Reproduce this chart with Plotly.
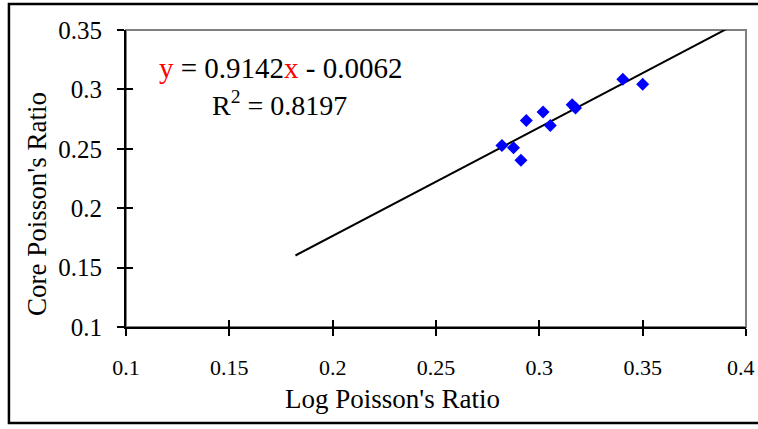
import plotly.graph_objects as go

# Data
log_pr = [0.2819, 0.2875, 0.2911, 0.2937, 0.3018, 0.3053, 0.3159, 0.3175, 0.3404, 0.3500]
core_pr = [0.2527, 0.2508, 0.2404, 0.2739, 0.2810, 0.2697, 0.2871, 0.2843, 0.3086, 0.3044]
slope = 0.9142
intercept = -0.0062
trend_x = [0.182, 0.391]
trend_y = [slope * v + intercept for v in trend_x]
x_ticks = [0.1, 0.15, 0.2, 0.25, 0.3, 0.35, 0.4]
y_ticks = [0.1, 0.15, 0.2, 0.25, 0.3, 0.35]

FONT = "Liberation Serif, Times New Roman, serif"

# last x tick label is drawn as an annotation nudged inward so it is not clipped at the page edge
x_ticktext = [f"{v:g}" for v in x_ticks[:-1]] + [""]
last_x_label = f"{x_ticks[-1]:g}"

fig = go.Figure()
fig.add_trace(go.Scatter(x=trend_x, y=trend_y, mode="lines",
                         line=dict(color="black", width=2), showlegend=False, hoverinfo="skip"))
fig.add_trace(go.Scatter(x=log_pr, y=core_pr, mode="markers",
                         marker=dict(symbol="diamond", color="#0000FF", size=10, line=dict(width=0)),
                         showlegend=False))

fig.update_layout(
    width=758, height=429,
    margin=dict(l=126, r=12, t=30, b=102, autoexpand=False),
    paper_bgcolor="white", plot_bgcolor="white",
    font=dict(family=FONT, color="black"),
    xaxis=dict(range=[0.1, 0.4], tickvals=x_ticks, ticktext=x_ticktext,
               showgrid=False, zeroline=False, showline=True, linecolor="black", linewidth=2,
               ticks="outside", ticklen=7, tickwidth=2, tickcolor="black",
               tickfont=dict(size=22, family=FONT), ticklabelstandoff=13,
               ticklabeloverflow="allow", automargin=False),
    yaxis=dict(range=[0.1, 0.35], tickvals=y_ticks, ticktext=[f"{v:g}" for v in y_ticks],
               showgrid=False, zeroline=False, showline=True, linecolor="black", linewidth=2,
               ticks="outside", ticklen=7, tickwidth=2, tickcolor="black",
               tickfont=dict(size=25, family=FONT), ticklabelstandoff=10,
               ticklabeloverflow="allow", automargin=False),
    xaxis2=dict(range=[0.1, 0.4], tickvals=x_ticks, overlaying="x", showticklabels=False,
                showgrid=False, zeroline=False, showline=False, automargin=False,
                ticks="inside", ticklen=7, tickwidth=2, tickcolor="black"),
    yaxis2=dict(range=[0.1, 0.35], tickvals=y_ticks, overlaying="y", showticklabels=False,
                showgrid=False, zeroline=False, showline=False, automargin=False,
                ticks="inside", ticklen=7, tickwidth=2, tickcolor="black"),
    shapes=[
        dict(type="rect", xref="paper", yref="paper", x0=0, x1=1, y0=0, y1=1,
             line=dict(color="#808080", width=2), layer="below"),
        dict(type="rect", xref="paper", yref="paper", x0=(9 - 126) / 619.7, x1=(765 - 126) / 619.7,
             y0=(327 - 423) / 297, y1=(327 - 4) / 297,
             line=dict(color="black", width=2.5), layer="below"),
    ],
    annotations=[
        dict(xref="paper", yref="paper", x=(281 - 126) / 619.7, y=(327 - 68) / 297, showarrow=False,
             text="<span style='color:red'>y</span> = 0.9142<span style='color:red'>x</span> - 0.0062",
             font=dict(size=29, family=FONT, color="black"), xanchor="center", yanchor="middle"),
        dict(xref="paper", yref="paper", x=(279 - 126) / 619.7, y=(327 - 103) / 297, showarrow=False,
             text="R<sup>2</sup> = 0.8197",
             font=dict(size=28, family=FONT, color="black"), xanchor="center", yanchor="middle"),
        dict(xref="paper", yref="paper", x=(37 - 126) / 619.7, y=(327 - 204) / 297, showarrow=False,
             text="Core Poisson's Ratio", textangle=-90,
             font=dict(size=27, family=FONT, color="black"), xanchor="center", yanchor="middle"),
        dict(xref="paper", yref="paper", x=(392 - 126) / 619.7, y=(327 - 399) / 297, showarrow=False,
             text="Log Poisson's Ratio",
             font=dict(size=27, family=FONT, color="black"), xanchor="center", yanchor="middle"),
        dict(xref="x", yref="paper", x=x_ticks[-1], y=(327 - 367) / 297, showarrow=False,
             text=last_x_label, xanchor="right", xshift=11,
             font=dict(size=22, family=FONT, color="black"), yanchor="middle"),
    ],
)
# attach overlay axes with an invisible trace so they render
fig.add_trace(go.Scatter(x=[0.1], y=[0.1], xaxis="x2", yaxis="y2", mode="markers",
                         marker=dict(opacity=0), showlegend=False, hoverinfo="skip"))

fig.write_html("out.html", config={"displayModeBar": False},
               post_script="document.body.style.margin='0';document.body.style.overflow='hidden';")
